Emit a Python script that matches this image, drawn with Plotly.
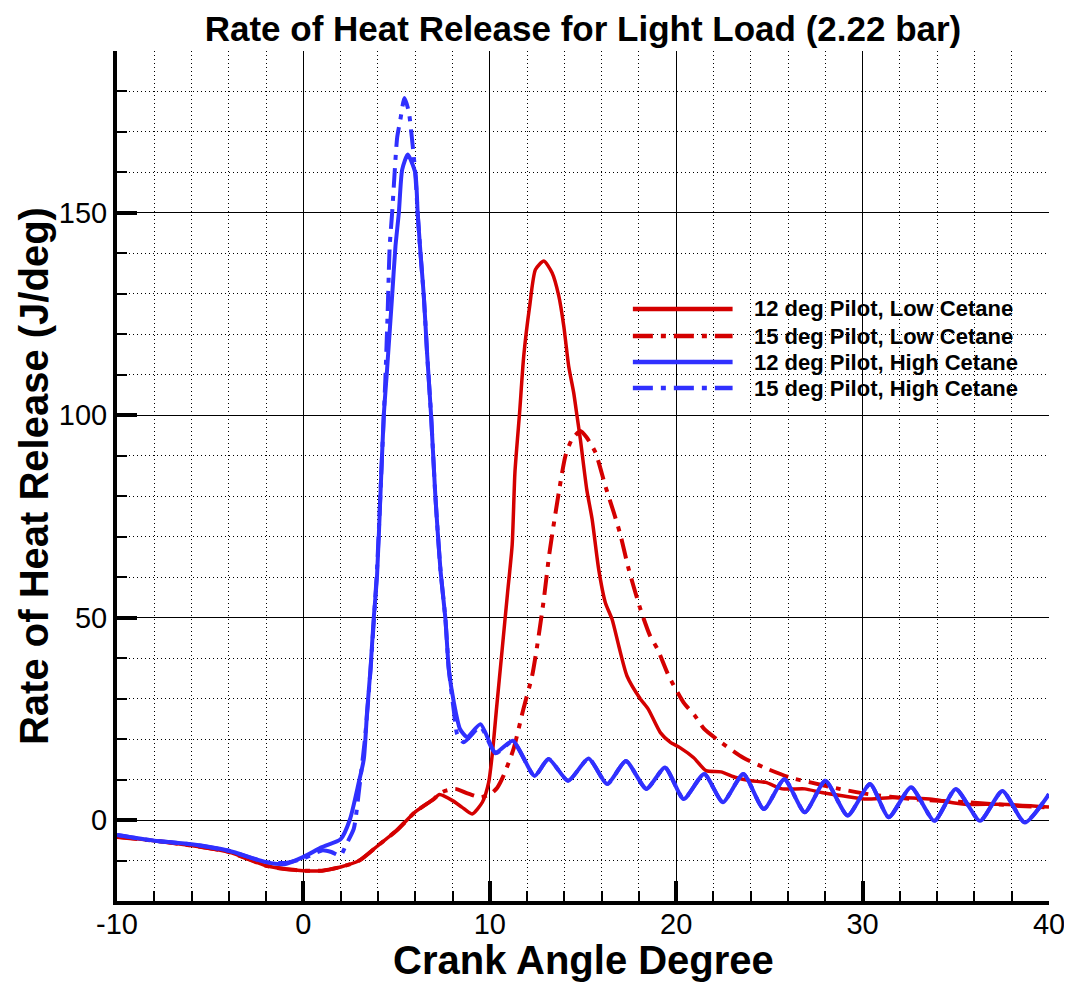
import plotly.graph_objects as go

# ---------------- data ----------------
# 12 deg Pilot, Low Cetane
red_solid_x = [-10, -8, -6, -4, -2, -1, 0, 1, 2, 3, 4, 5, 6, 7, 7.3, 8, 8.5, 9.05, 9.6,
               9.94, 10.15, 10.35, 10.66, 10.95, 11.2, 11.35, 11.6, 11.82, 12.14, 12.45,
               12.9, 13.34, 13.7, 13.97, 14.23, 14.5, 14.68, 14.86, 15.2, 15.49, 15.84,
               16.2, 16.56, 16.92, 17.36, 18.08, 18.5, 19.15, 19.69, 20.2, 20.94, 21.6,
               22.4, 23.2, 24.0, 24.8, 25.7, 26.9, 27.8, 28.9, 30.1, 31.7, 33.6, 35.5,
               37.4, 40]
red_solid_y = [-4.2, -5.1, -6.3, -7.9, -11.3, -12.1, -12.5, -12.5, -11.6, -10.0, -6.3,
               -2.6, 2.0, 5.2, 6.3, 4.8, 3.2, 1.5, 4.4, 9.3, 17.0, 27.0, 42.0, 56.0, 68.0,
               86.0, 100.7, 114.6, 127.0, 136.0, 138.1, 135.2, 129.5, 122.0, 112.2, 105.6,
               99.8, 94.0, 81.7, 74.3, 62.0, 53.7, 49.6, 43.0, 35.6, 29.9, 27.4, 21.6,
               19.2, 17.9, 15.4, 12.2, 11.9, 10.5, 9.7, 9.3, 7.7, 7.7, 6.8, 6.0, 5.2, 5.6,
               5.2, 3.9, 3.9, 3.2]

# 15 deg Pilot, Low Cetane
red_dash_x = [-10, -8, -6, -4, -2, -1, 0, 1, 2, 3, 4, 5, 6, 7, 7.3, 7.6, 8.15, 8.8, 9.5,
              10.03, 10.4, 10.73, 11.27, 11.8, 12.27, 12.54, 12.9, 13.2, 13.7, 14.06,
              14.4, 14.86, 15.2, 15.67, 16.2, 16.65, 17.0, 17.45, 18.08, 18.6, 19.0,
              19.6, 20.4, 21.0, 21.5, 22.4, 23.6, 24.7, 26.1, 27.2, 28.75, 30.3, 32.6,
              35.5, 38.4, 40]
red_dash_y = [-4.2, -5.1, -6.3, -7.9, -11.3, -12.1, -12.5, -12.5, -11.6, -10.0, -6.3,
              -2.6, 2.0, 5.2, 6.5, 7.2, 7.7, 6.6, 5.6, 6.4, 8.0, 10.9, 17.5, 27.4, 35.6,
              43.0, 54.6, 66.0, 80.9, 90.0, 94.0, 96.1, 94.5, 90.8, 82.5, 76.0, 70.6,
              62.0, 52.1, 45.5, 42.2, 35.6, 29.0, 25.8, 22.5, 19.2, 15.4, 13.0, 10.5,
              9.3, 7.7, 6.4, 5.2, 4.4, 3.5, 3.1]

# 12 deg Pilot, High Cetane
blue_solid_x = [-10, -8, -6, -4, -2, -1, 0, 1, 2, 2.5, 2.97, 3.24, 3.42, 3.6, 3.77, 3.95,
                4.13, 4.31, 4.49, 4.76, 4.94, 5.12, 5.3, 5.6, 6.0, 6.13, 6.28, 6.46,
                6.64, 6.85, 7.08, 7.35, 7.62, 7.8, 8.07, 8.4, 8.78, 9.5, 10.3, 11.24,
                12.4, 13.15, 14.2, 15.3, 16.3, 17.3, 18.4, 19.4, 20.4, 21.5, 22.5, 23.6,
                24.7, 25.8, 26.9, 28.0, 29.2, 30.4, 31.4, 32.6, 33.85, 35.0, 36.3, 37.5,
                38.7, 40]
blue_solid_y = [-3.7, -5.1, -6.0, -7.6, -10.4, -10.9, -9.1, -6.7, -4.7, 0.2, 9.3, 15.0,
                27.0, 37.3, 49.6, 60.3, 80.0, 99.8, 111.4, 129.5, 141.8, 150.0, 160.7,
                164.4, 159.9, 150.0, 140.2, 129.5, 115.0, 100.0, 80.0, 62.0, 49.6, 37.3,
                29.1, 22.5, 20.5, 23.7, 16.7, 19.6, 10.9, 15.1, 9.7, 15.2, 8.9, 14.6, 7.7,
                13.0, 5.2, 11.4, 4.4, 11.4, 2.7, 10.1, 1.9, 9.7, 1.1, 8.9, 0.7, 8.1, -0.2,
                7.7, -0.2, 7.2, -0.6, 6.4]

# 15 deg Pilot, High Cetane
blue_dash_x = [-10, -8, -6, -4, -2, -1, 0, 1, 1.5, 1.98, 2.3, 2.7, 3.0, 3.3, 3.6, 3.95,
               4.2, 4.4, 4.52, 4.63, 4.76, 4.85, 5.03, 5.2, 5.42, 5.65, 5.83, 6.0, 6.13,
               6.28, 6.46, 6.64, 6.85, 7.08, 7.35, 7.62, 7.8, 8.07, 8.25, 8.6, 9.5, 10.3,
               11.24, 12.4, 13.15, 14.2, 15.3, 16.3, 17.3, 18.4, 19.4, 20.4, 21.5, 22.5,
               23.6, 24.7, 25.8, 26.9, 28.0, 29.2, 30.4, 31.4, 32.6, 33.85, 35.0, 36.3,
               37.5, 38.7, 40]
blue_dash_y = [-3.7, -5.1, -6.0, -7.6, -10.4, -10.6, -9.5, -7.5, -7.9, -8.8, -6.0, -2.2,
               8.0, 20.0, 37.0, 62.0, 88.0, 109.3, 125.4, 141.8, 150.0, 156.6, 168.6,
               173.0, 178.4, 175.1, 168.1, 160.0, 150.0, 140.0, 129.5, 115.0, 100.0, 80.0,
               62.0, 49.6, 37.3, 27.0, 21.2, 19.2, 23.0, 16.5, 19.4, 10.9, 15.1, 9.7,
               15.2, 8.9, 14.6, 7.7, 13.0, 5.2, 11.4, 4.4, 11.4, 2.7, 10.1, 1.9, 9.7, 1.1,
               8.9, 0.7, 8.1, -0.2, 7.7, -0.2, 7.2, -0.6, 6.4]

series_names = ["12 deg Pilot, Low Cetane", "15 deg Pilot, Low Cetane",
                "12 deg Pilot, High Cetane", "15 deg Pilot, High Cetane"]

x_tick_vals = [-10, 0, 10, 20, 30, 40]
x_tick_text = ["-10", "0", "10", "20", "30", "40"]
x_range = [-10, 40]
y_range = [-20, 190]

# ---------------- styling ----------------
RED = "#d40000"
BLUE = "#3030ff"
DASHDOT = "20px,8px,5px,8px"
FONT = "Liberation Sans, Arial, sans-serif"

series = [
    (red_dash_x, red_dash_y, series_names[1], RED, DASHDOT, 4),
    (red_solid_x, red_solid_y, series_names[0], RED, "solid", 3.5),
    (blue_dash_x, blue_dash_y, series_names[3], BLUE, DASHDOT, 4),
    (blue_solid_x, blue_solid_y, series_names[2], BLUE, "solid", 4),
]

fig = go.Figure()
for xs, ys, name, col, dash, w in series:
    fig.add_trace(go.Scatter(
        x=xs, y=ys, name=name, mode="lines",
        line=dict(color=col, width=w, dash=dash, shape="spline", smoothing=0.6),
        showlegend=False,
    ))

# custom legend (long line samples, like the reference)
legend_order = [(series_names[0], RED, "solid"), (series_names[1], RED, DASHDOT),
                (series_names[2], BLUE, "solid"), (series_names[3], BLUE, DASHDOT)]
legend_y = [0.6965, 0.6647, 0.634, 0.6035]
for (name, col, dash), ly in zip(legend_order, legend_y):
    fig.add_shape(type="line", xref="paper", yref="paper", x0=0.5535, x1=0.6605,
                  y0=ly, y1=ly, line=dict(color=col, width=4.5, dash=dash))
    fig.add_annotation(xref="paper", yref="paper", x=0.6815, y=ly, text=f"<b>{name}</b>",
                       showarrow=False, xanchor="left", yanchor="middle",
                       font=dict(family=FONT, size=22, color="black"))

# axis titles
fig.add_annotation(xref="paper", yref="paper", x=0.5, y=-0.069, yanchor="middle",
                   text="<b>Crank Angle Degree</b>", showarrow=False,
                   font=dict(family=FONT, size=40, color="black"))
fig.add_annotation(xref="paper", yref="paper", x=-0.089, y=0.5, xanchor="center",
                   yanchor="middle", textangle=-90,
                   text="<b>Rate of Heat Release (J/deg)</b>", showarrow=False,
                   font=dict(family=FONT, size=40, color="black"))

axis_common = dict(
    showline=True, linecolor="black", linewidth=4,
    ticks="inside", ticklen=20, tickwidth=4, tickcolor="black",
    showgrid=True, gridcolor="black", gridwidth=1,
    zeroline=False, automargin=False,
    tickfont=dict(family=FONT, size=29, color="black"),
)
minor_common = dict(ticks="inside", ticklen=10, tickwidth=2, tickcolor="black",
                    showgrid=True, gridcolor="black", griddash="1px,3px", gridwidth=1)

fig.update_xaxes(
    range=x_range, tickmode="array", tickvals=x_tick_vals, ticktext=x_tick_text,
    minor=dict(dtick=2, tick0=0, **minor_common),
    ticklabelstandoff=-6,
    **axis_common,
)
fig.update_yaxes(
    range=y_range, tick0=0, dtick=50,
    minor=dict(dtick=10, tick0=0, **minor_common),
    ticklabelstandoff=0,
    **axis_common,
)

# the page body adds an 8px margin, so the figure is 8px smaller on each axis
fig.update_layout(
    width=1064, height=978,
    margin=dict(l=109, r=23, t=43, b=85),
    paper_bgcolor="white", plot_bgcolor="white",
    title=dict(text="<b>Rate of Heat Release for Light Load (2.22 bar)</b>",
               x=0.5404, xanchor="center", y=0.979, yanchor="middle", xref="container",
               font=dict(family=FONT, size=35, color="black")),
    showlegend=False,
)

fig.write_html("out.html")
